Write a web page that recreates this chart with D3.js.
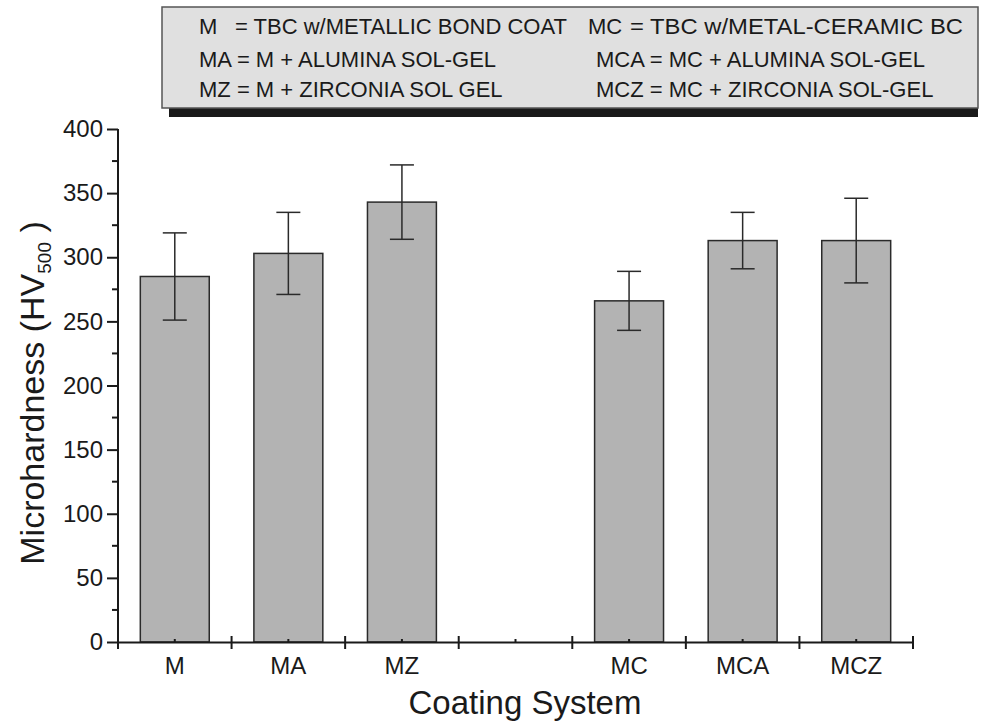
<!DOCTYPE html>
<html>
<head>
<meta charset="utf-8">
<script src="https://cdn.jsdelivr.net/npm/d3@7"></script>
<style>
  body { margin: 0; background: #fff; }
  svg { display: block; font-family: "Liberation Sans", Arial, sans-serif; }
</style>
</head>
<body>
<div id="chart"></div>
<script>
// slots along the x axis; '' is the empty gap between the two groups
const SLOTS = ['M', 'MA', 'MZ', '', 'MC', 'MCA', 'MCZ'];
const CATEGORIES = ['M', 'MA', 'MZ', 'MC', 'MCA', 'MCZ'];
const HARDNESS = [285, 303, 343, 266, 313, 313];
const ERRORS = [34, 32, 29, 23, 22, 33];
const Y_TICKS = [0, 50, 100, 150, 200, 250, 300, 350, 400];

const LEGEND_LEFT = [
  ['M', '= TBC w/METALLIC BOND COAT'],
  ['MA = M + ALUMINA SOL-GEL', null],
  ['MZ = M + ZIRCONIA SOL GEL', null]
];
const LEGEND_RIGHT = [
  ['MC', '= TBC w/METAL-CERAMIC BC'],
  ['MCA = MC + ALUMINA SOL-GEL', null],
  ['MCZ = MC + ZIRCONIA SOL-GEL', null]
];

const W = 988, H = 724;
const svg = d3.select('#chart').append('svg').attr('width', W).attr('height', H);

const x0 = 118, x1 = 913, yBottom = 642, yTop = 129;
const x = d3.scaleBand().domain(SLOTS.map((d, i) => i)).range([x0, x1]).paddingInner(0).paddingOuter(0);
const y = d3.scaleLinear().domain([0, 400]).range([yBottom, yTop]);
const slotOf = c => SLOTS.indexOf(c);
const barW = x.bandwidth() * 0.607;

const data = CATEGORIES.map((c, i) => ({ cat: c, value: HARDNESS[i], err: ERRORS[i] }));

// bars
svg.append('g').selectAll('rect').data(data).enter().append('rect')
  .attr('x', d => x(slotOf(d.cat)) + (x.bandwidth() - barW) / 2)
  .attr('y', d => y(d.value))
  .attr('width', barW)
  .attr('height', d => y(0) - y(d.value))
  .attr('fill', '#b3b3b3')
  .attr('stroke', '#2a2a2a')
  .attr('stroke-width', 1.5);

// error bars
const eb = svg.append('g').attr('stroke', '#2a2a2a').attr('stroke-width', 1.5);
const cx = d => x(slotOf(d.cat)) + x.bandwidth() / 2;
eb.selectAll('line.v').data(data).enter().append('line')
  .attr('x1', cx).attr('x2', cx)
  .attr('y1', d => y(d.value + d.err)).attr('y2', d => y(d.value - d.err));
[1, -1].forEach(s => {
  eb.selectAll(null).data(data).enter().append('line')
    .attr('x1', d => cx(d) - 12).attr('x2', d => cx(d) + 12)
    .attr('y1', d => y(d.value + s * d.err))
    .attr('y2', d => y(d.value + s * d.err));
});

// y axis
const yAxis = svg.append('g').attr('transform', `translate(${x0},0)`)
  .call(d3.axisLeft(y).tickValues(Y_TICKS).tickSize(11).tickPadding(4));
yAxis.select('.domain').attr('stroke', '#1a1a1a').attr('stroke-width', 2).attr('d', `M0,${yBottom}V${yTop}`);
yAxis.selectAll('.tick line').attr('stroke', '#1a1a1a').attr('stroke-width', 2);
yAxis.selectAll('.tick text').attr('font-size', 24).attr('fill', '#1a1a1a')
  .attr('font-family', '"Liberation Sans", Arial, sans-serif');
const minorY = d3.range(25, 400, 50);
svg.append('g').selectAll('line').data(minorY).enter().append('line')
  .attr('x1', x0 - 6).attr('x2', x0).attr('y1', d => y(d)).attr('y2', d => y(d))
  .attr('stroke', '#1a1a1a').attr('stroke-width', 2);

// x axis
const xAxis = svg.append('g').attr('transform', `translate(0,${yBottom})`)
  .call(d3.axisBottom(x).tickFormat(i => SLOTS[i]).tickSize(0).tickPadding(15));
xAxis.select('.domain').attr('stroke', '#1a1a1a').attr('stroke-width', 2);
xAxis.selectAll('.tick text').attr('font-size', 24).attr('fill', '#1a1a1a')
  .attr('font-family', '"Liberation Sans", Arial, sans-serif');
const bounds = SLOTS.map((d, i) => x(i)).concat([x1]);
svg.append('g').selectAll('line').data(bounds).enter().append('line')
  .attr('x1', d => d).attr('x2', d => d).attr('y1', yBottom - 6).attr('y2', yBottom + 7)
  .attr('stroke', '#1a1a1a').attr('stroke-width', 2);
svg.append('g').selectAll('line').data(SLOTS.map((d, i) => i)).enter().append('line')
  .attr('x1', i => x(i) + x.bandwidth() / 2).attr('x2', i => x(i) + x.bandwidth() / 2)
  .attr('y1', yBottom - 3).attr('y2', yBottom)
  .attr('stroke', '#1a1a1a').attr('stroke-width', 2);

// axis titles
svg.append('text').attr('x', 525).attr('y', 714).attr('text-anchor', 'middle')
  .attr('font-size', 33).attr('fill', '#1a1a1a').text('Coating System');
const yt = svg.append('text').attr('transform', `translate(44,393) rotate(-90)`)
  .attr('text-anchor', 'middle').attr('font-size', 34).attr('fill', '#1a1a1a');
yt.append('tspan').text('Microhardness (HV');
yt.append('tspan').attr('font-size', 19).attr('dy', 7).text('500');
yt.append('tspan').attr('dy', -7).text(' )');

// legend box with shadow
const lg = svg.append('g');
lg.append('rect').attr('x', 169).attr('y', 16).attr('width', 809).attr('height', 101).attr('fill', '#1a1a1a');
lg.append('rect').attr('x', 162).attr('y', 7).attr('width', 816).attr('height', 101)
  .attr('fill', '#e0e0e0').attr('stroke', '#555').attr('stroke-width', 1.5);
const rowsY = [34, 67, 97];
const addText = (tx, ty, s, len) => {
  const t = lg.append('text').attr('x', tx).attr('y', ty).attr('font-size', 22).attr('fill', '#1a1a1a').text(s);
  if (len) t.attr('textLength', len).attr('lengthAdjust', 'spacingAndGlyphs');
};
LEGEND_LEFT.forEach((r, i) => {
  addText(199, rowsY[i], r[0]);
  if (r[1]) addText(235, rowsY[i], r[1]);
});
LEGEND_RIGHT.forEach((r, i) => {
  if (r[1]) { addText(588, rowsY[i], r[0]); addText(630, rowsY[i], r[1], 333); }
  else addText(596, rowsY[i], r[0]);
});
</script>
</body>
</html>
